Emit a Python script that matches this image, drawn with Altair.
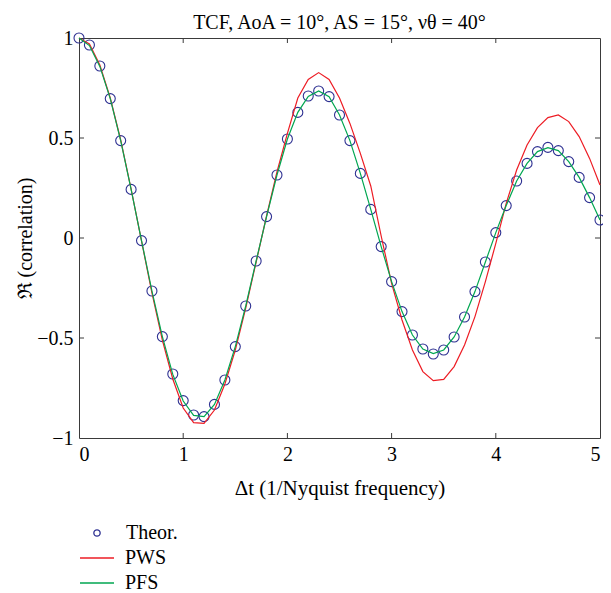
import altair as alt
import pandas as pd

# ---- data ----
t_vals = [0.0, 0.1, 0.2, 0.3, 0.4, 0.5, 0.6, 0.7, 0.8, 0.9,
          1.0, 1.1, 1.2, 1.3, 1.4, 1.5, 1.6, 1.7, 1.8, 1.9,
          2.0, 2.1, 2.2, 2.3, 2.4, 2.5, 2.6, 2.7, 2.8, 2.9,
          3.0, 3.1, 3.2, 3.3, 3.4, 3.5, 3.6, 3.7, 3.8, 3.9,
          4.0, 4.1, 4.2, 4.3, 4.4, 4.5, 4.6, 4.7, 4.8, 4.9, 5.0]

theor = [1.0, 0.965, 0.86, 0.697, 0.487, 0.243, -0.013, -0.265, -0.493, -0.68,
         -0.813, -0.885, -0.893, -0.832, -0.71, -0.543, -0.34, -0.115, 0.107, 0.315,
         0.495, 0.628, 0.71, 0.735, 0.707, 0.615, 0.487, 0.323, 0.143, -0.043,
         -0.218, -0.368, -0.485, -0.555, -0.58, -0.56, -0.495, -0.395, -0.268, -0.12,
         0.027, 0.162, 0.285, 0.373, 0.432, 0.453, 0.437, 0.382, 0.303, 0.202, 0.09]

pws = [1.0, 0.97, 0.865, 0.70, 0.49, 0.245, -0.015, -0.275, -0.51, -0.705,
       -0.85, -0.923, -0.927, -0.86, -0.73, -0.56, -0.35, -0.12, 0.11, 0.33,
       0.523, 0.70, 0.793, 0.827, 0.793, 0.70, 0.573, 0.423, 0.26, 0.01,
       -0.227, -0.41, -0.56, -0.668, -0.713, -0.707, -0.643, -0.535, -0.393, -0.218,
       -0.027, 0.173, 0.34, 0.465, 0.552, 0.602, 0.615, 0.582, 0.507, 0.398, 0.265]

pfs = [1.0, 0.962, 0.858, 0.697, 0.487, 0.243, -0.013, -0.265, -0.493, -0.682,
       -0.815, -0.887, -0.893, -0.832, -0.71, -0.543, -0.34, -0.115, 0.107, 0.315,
       0.495, 0.628, 0.708, 0.735, 0.707, 0.615, 0.487, 0.323, 0.143, -0.043,
       -0.218, -0.368, -0.485, -0.555, -0.578, -0.56, -0.495, -0.395, -0.268, -0.12,
       0.027, 0.162, 0.285, 0.373, 0.432, 0.452, 0.437, 0.382, 0.303, 0.202, 0.09]

x_ticks = [0, 1, 2, 3, 4, 5]
y_ticks = [-1, -0.5, 0, 0.5, 1]
x_inner_ticks = [1, 2, 3, 4]
y_inner_ticks = [-0.5, 0, 0.5]

title_text = "TCF, AoA = 10°, AS = 15°, νθ = 40°"
x_title = "Δt (1/Nyquist frequency)"
y_title = "ℜ (correlation)"

BLUE = "#2e3192"
RED = "#ed1c24"
GREEN = "#00a651"
FRAME = "#3a3a3a"
FONT = "Liberation Serif"
FS = 20

W, H = 521, 400

df_theor = pd.DataFrame({"t": t_vals, "r": theor, "kind": "Theor."})
df_pws = pd.DataFrame({"t": t_vals, "r": pws, "series": "PWS"})
df_pfs = pd.DataFrame({"t": t_vals, "r": pfs, "series": "PFS"})
df_xt = pd.DataFrame({"v": x_inner_ticks})
df_yt = pd.DataFrame({"v": y_inner_ticks})

xscale = alt.Scale(domain=[0, 5], nice=False, zero=False)
yscale = alt.Scale(domain=[-1, 1], nice=False, zero=False)

xaxis = alt.Axis(values=x_ticks, format="d", title=x_title, labelPadding=6,
                 titlePadding=13, titleFontSize=21)
yaxis = alt.Axis(values=y_ticks, format="~g", title=y_title, labelPadding=6,
                 titlePadding=1)

points = alt.Chart(df_theor).mark_point(
    filled=False, stroke=BLUE, strokeWidth=1.1, size=100, opacity=1
).encode(
    x=alt.X("t:Q", scale=xscale, axis=xaxis),
    y=alt.Y("r:Q", scale=yscale, axis=yaxis),
    shape=alt.Shape("kind:N", scale=alt.Scale(domain=["Theor."], range=["circle"]),
                    legend=alt.Legend(title=None, orient="none", legendX=8, legendY=485,
                                      symbolSize=40, symbolStrokeColor=BLUE,
                                      symbolFillColor="transparent",
                                      symbolStrokeWidth=1.3, labelOffset=19,
                                      padding=0)),
)

color_scale = alt.Scale(domain=["PWS", "PFS"], range=[RED, GREEN])
color_legend = alt.Legend(title=None, orient="none", legendX=2, legendY=509,
                          symbolType="M-1.7,0H1.7", symbolSize=400, symbolStrokeWidth=1.3,
                          symbolOffset=5, labelOffset=17, rowPadding=4, padding=0)

line_pws = alt.Chart(df_pws).mark_line(strokeWidth=1.2).encode(
    x=alt.X("t:Q", scale=xscale),
    y=alt.Y("r:Q", scale=yscale),
    color=alt.Color("series:N", scale=color_scale, legend=color_legend),
)
line_pfs = alt.Chart(df_pfs).mark_line(strokeWidth=1.2).encode(
    x=alt.X("t:Q", scale=xscale),
    y=alt.Y("r:Q", scale=yscale),
    color=alt.Color("series:N", scale=color_scale, legend=color_legend),
)

tick_top = alt.Chart(df_xt).mark_rule(color=FRAME, strokeWidth=1).encode(
    x=alt.X("v:Q", scale=xscale), y=alt.value(0), y2=alt.value(5))
tick_bot = alt.Chart(df_xt).mark_rule(color=FRAME, strokeWidth=1).encode(
    x=alt.X("v:Q", scale=xscale), y=alt.value(H), y2=alt.value(H - 5))
tick_left = alt.Chart(df_yt).mark_rule(color=FRAME, strokeWidth=1).encode(
    y=alt.Y("v:Q", scale=yscale), x=alt.value(0), x2=alt.value(5))
tick_right = alt.Chart(df_yt).mark_rule(color=FRAME, strokeWidth=1).encode(
    y=alt.Y("v:Q", scale=yscale), x=alt.value(W), x2=alt.value(W - 5))

chart = alt.layer(
    tick_top, tick_bot, tick_left, tick_right, points, line_pws, line_pfs
).properties(
    width=W, height=H,
    title=alt.Title(title_text, font=FONT, fontSize=FS, fontWeight="normal",
                    color="black", offset=4, dy=9, anchor="middle", frame="group"),
    autosize=alt.AutoSizeParams(type="none"),
    padding={"left": 71, "top": 30, "right": 3, "bottom": 155},
).configure_view(
    stroke=FRAME, strokeWidth=1
).configure_axis(
    domain=False, grid=False, ticks=False,
    labelFont=FONT, labelFontSize=FS, labelColor="black",
    titleFont=FONT, titleFontSize=FS, titleFontWeight="normal", titleColor="black",
).configure_legend(
    labelFont=FONT, labelFontSize=FS, labelColor="black",
)

chart.save("out.html", embed_options={"renderer": "svg", "actions": False})
